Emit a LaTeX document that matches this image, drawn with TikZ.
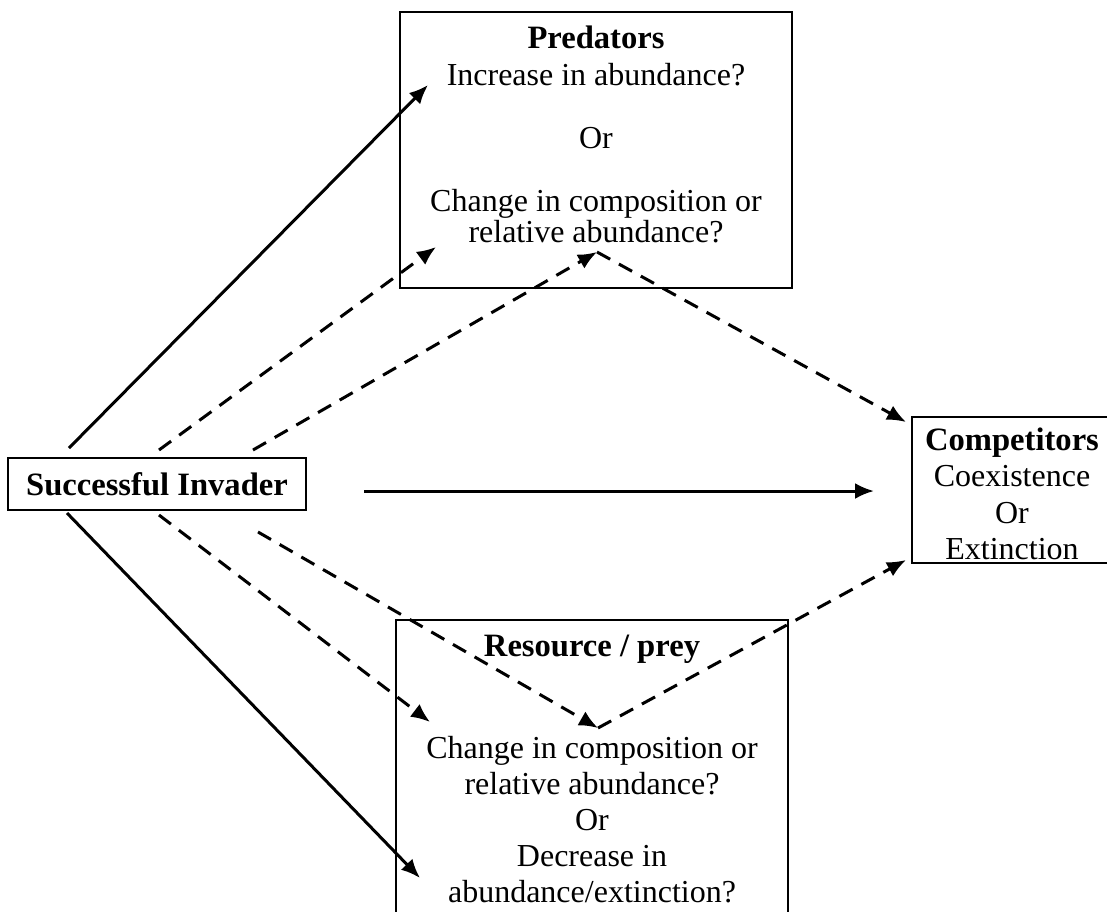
\documentclass[tikz,border=0pt]{standalone}
\usepackage{fontspec}
\setmainfont{Liberation Serif}
\usetikzlibrary{arrows.meta}

\newcommand{\hd}[1]{{\fontsize{16.3}{16.3}\selectfont\bfseries #1}}

\begin{document}
\begin{tikzpicture}[
    x = 0.5pt, y = -0.5pt,
    every node/.style = {font = \fontsize{16}{15.5}\selectfont, inner sep = 0pt},
    box/.style = {draw, line width = 1pt},
    txt/.style = {align = center, anchor = north},
    link/.style = {line width = 1.5pt, -{Latex[length = 9.5pt, width = 8pt]}},
    dlink/.style = {link, dash pattern = on 7.5pt off 5pt}]

\useasboundingbox (0,0) rectangle (1107,911);

% boxes
\node[box, minimum width = 149pt, minimum height = 26pt] (inv) at (157,484) {\hd{Successful Invader}};
\node[box, minimum width = 196pt, minimum height = 138pt] (pred) at (596,150) {};
\node[box, minimum width = 196pt, minimum height = 155pt] (res) at (592,775) {};
\node[box, minimum width = 101.5pt, minimum height = 73pt] (comp) at (1013.5,490) {};

% box texts
\node[txt] (pred-txt) at (596,25) {\hd{Predators}\\[3pt]
    Increase in abundance?\\[16pt] Or\\[16pt]
    Change in composition or\\ relative abundance?};
\node[txt, font = \fontsize{16}{18}\selectfont] (res-txt) at (592,635) {\hd{Resource / prey}\\[33pt]
    Change in composition or\\ relative abundance?\\ Or\\
    Decrease in\\ abundance/extinction?};
\node[txt, font = \fontsize{16}{18.3}\selectfont] (comp-txt) at (1012,427) {\hd{Competitors}\\
    Coexistence\\ Or\\ Extinction};

% arrow ends
\coordinate (s1) at (69,448);  \coordinate (p1) at (428,85);
\coordinate (s2) at (159,450); \coordinate (p2) at (436,247);
\coordinate (s3) at (253,450); \coordinate (p3) at (597,252);
\coordinate (s4) at (364,491); \coordinate (c2) at (874,491);
\coordinate (s5) at (67,513);  \coordinate (r1) at (420,878);
\coordinate (s6) at (159,515); \coordinate (r2) at (430,722);
\coordinate (s7) at (258,532); \coordinate (r3) at (598,728);
\coordinate (c1) at (906,422); \coordinate (c3) at (906,560);

% arrows
\draw[link]  (s1) -- (p1);
\draw[dlink] (s2) -- (p2);
\draw[dlink] (s3) -- (p3);
\draw[dlink] (p3) -- (c1);
\draw[link]  (s4) -- (c2);
\draw[link]  (s5) -- (r1);
\draw[dlink] (s6) -- (r2);
\draw[dlink] (s7) -- (r3);
\draw[dlink] (r3) -- (c3);
\end{tikzpicture}
\end{document}
